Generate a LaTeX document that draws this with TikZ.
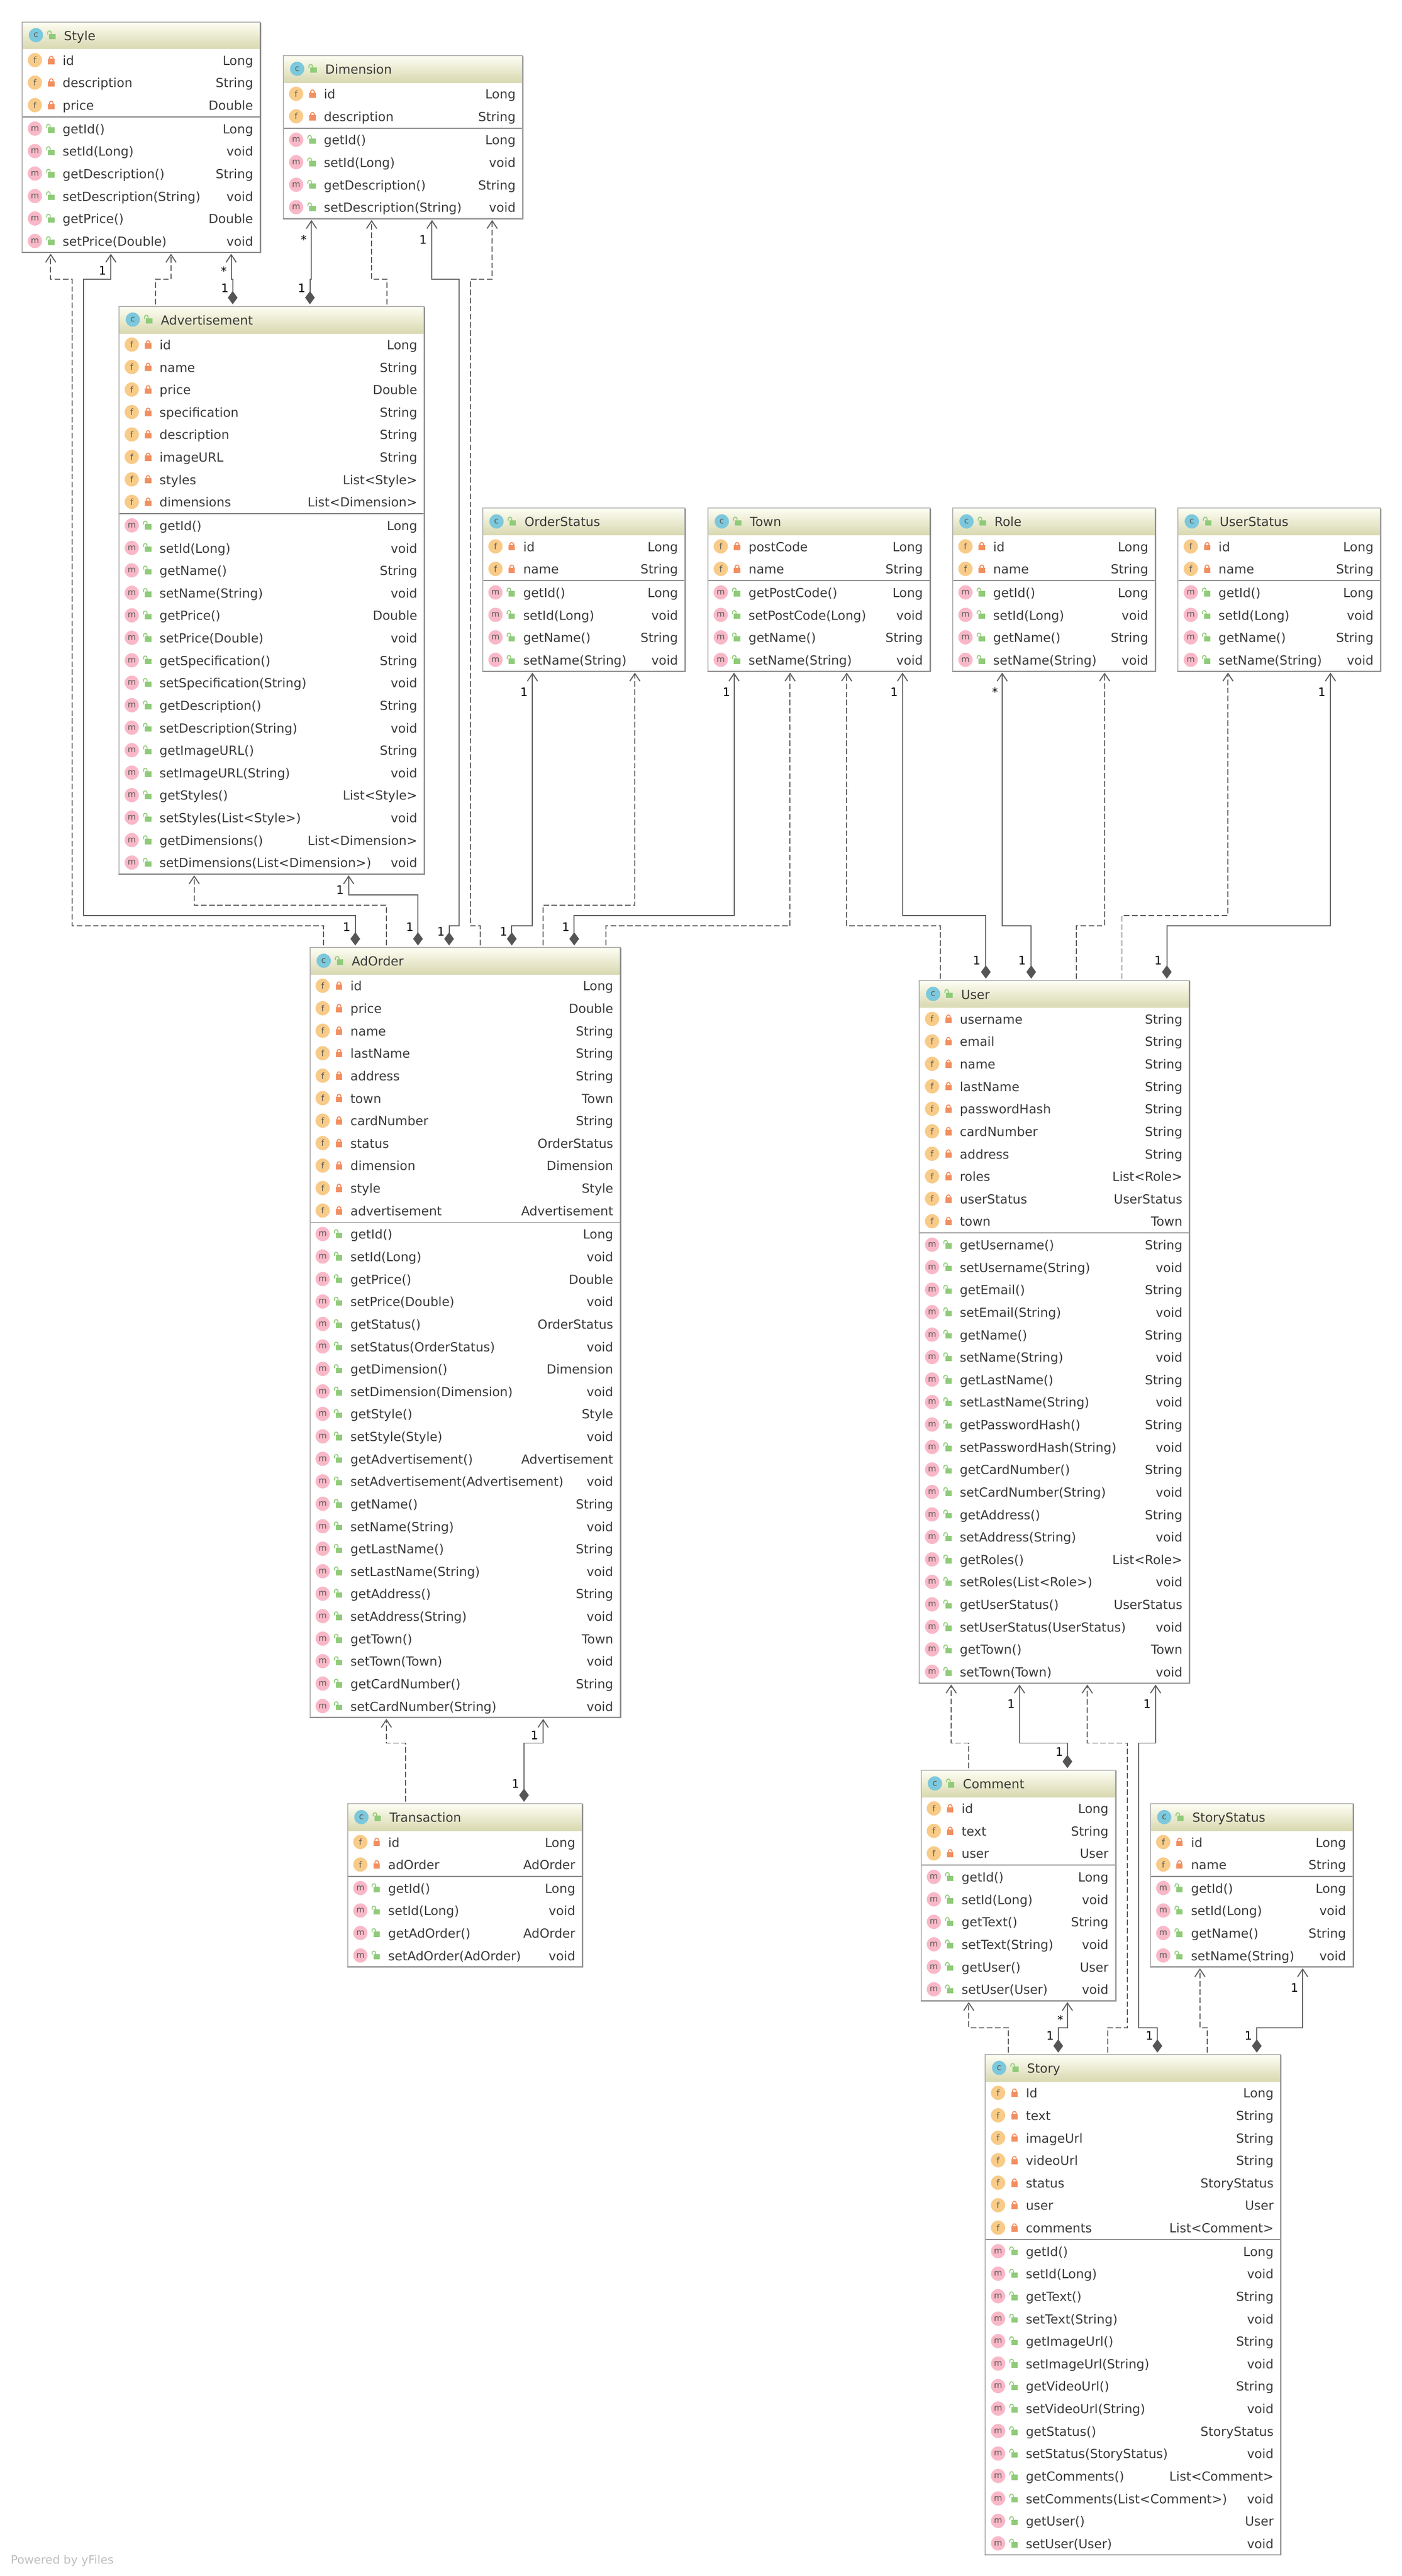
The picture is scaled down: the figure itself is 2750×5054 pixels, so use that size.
\documentclass[tikz,border=0pt]{standalone}
\usepackage{fontspec}
\setmainfont{DejaVu Sans}
\usetikzlibrary{arrows.meta}
\definecolor{edgecol}{HTML}{5E5E5E}
\definecolor{diacol}{HTML}{555555}
\definecolor{txtcol}{HTML}{3A3A3A}
\definecolor{framecol}{HTML}{B4B4B4}
\definecolor{shadecol}{HTML}{8C8C8C}
\definecolor{divcol}{HTML}{808080}
\definecolor{headtop}{HTML}{FEFEF4}
\definecolor{headbot}{HTML}{D8D8B0}
\definecolor{ficon}{HTML}{F8CB88}
\definecolor{micon}{HTML}{F9B8C8}
\definecolor{cicon}{HTML}{7CC8DC}
\definecolor{redlock}{HTML}{F28F60}
\definecolor{greenlock}{HTML}{8FCB78}
\definecolor{lettercol}{HTML}{5A5A55}
\definecolor{wmcol}{HTML}{BEBEBE}
\newcounter{autoname}
\newcommand{\namednode}{\stepcounter{autoname}\node}
\tikzset{
  x=1pt,y=-1pt,
  classbox/.style={anchor=north west,inner sep=0,outer sep=0,draw=none,fill=white},
  rowtxt/.style={inner sep=0,outer sep=0,text=txtcol,font=\fontsize{24.6}{30}\selectfont},
  iconcirc/.style={circle,inner sep=0,outer sep=0,minimum size=28pt,text=lettercol,font=\fontsize{16.5}{20}\selectfont},
  mult/.style={inner sep=0,outer sep=0,anchor=base,text=black,font=\fontsize{23}{28}\selectfont},
  dep/.style={draw=edgecol,line width=2pt,dash pattern=on 11pt off 5pt,shorten <=4pt,shorten >=3pt,
    -{Straight Barb[length=15pt,width=20pt,line width=2pt]}},
  own/.style={draw=edgecol,line width=2pt,shorten <=4pt,shorten >=3pt,
    {Diamond[length=26pt,width=19pt,line width=0pt,fill=diacol,color=diacol]}-{Straight Barb[length=15pt,width=20pt,line width=2pt]}},
}
\newcommand{\closedlock}[2]{%
  \fill[redlock] (#1-6.2,#2-2.5) rectangle (#1+6.2,#2+8);
  \draw[redlock,line width=2pt] (#1-3.6,#2-2) -- (#1-3.6,#2-4) arc (180:360:3.6) -- (#1+3.6,#2-2);}
\newcommand{\openlock}[2]{%
  \fill[greenlock] (#1-6.2,#2-2.5) rectangle (#1+6.2,#2+8);
  \draw[greenlock,line width=1.8pt] (#1-9,#2-1.5) -- (#1-9,#2-5) arc (180:360:3.5) -- (#1-2,#2-2);}
% name, left, top, right, title, fields, methods, number of rows
\newcommand{\umlclass}[8]{%
  \pgfmathsetmacro{\bx}{#2}\pgfmathsetmacro{\by}{#3}\pgfmathsetmacro{\bw}{#4-#2}%
  \pgfmathsetmacro{\bh}{55+44.1*#8}%
  \pgfmathsetmacro{\bb}{#3+\bh}%
  \node[classbox,minimum width=\bw pt,minimum height=\bh pt] (#1) at (\bx,\by) {};
  \shade[top color=headtop,bottom color=headbot] (\bx,\by) rectangle (#4,\by+53);
  \namednode[iconcirc,fill=cicon,text=lettercol] (auto\arabic{autoname}) at (\bx+27,\by+26) {c};
  \openlock{\bx+59}{\by+26}
  \namednode[rowtxt,anchor=base west] (auto\arabic{autoname}) at (\bx+82,\by+36) {#5};
  \foreach \a/\b [count=\i] in {#6} {
    \pgfmathsetmacro{\ry}{\by+53+22+(\i-1)*44.1}
    \namednode[iconcirc,fill=ficon] (auto\arabic{autoname}) at (\bx+25,\ry) {f};
    \closedlock{\bx+57}{\ry}
    \namednode[rowtxt,anchor=base west] (auto\arabic{autoname}) at (\bx+79.5,\ry+9.7) {\a};
    \namednode[rowtxt,anchor=base east] (auto\arabic{autoname}) at (#4-13.5,\ry+9.7) {\b};
    \xdef\nfields{\i}
  }
  \pgfmathsetmacro{\dy}{\by+53+\nfields*44.1+1}%
  \draw[divcol,line width=2pt] (\bx,\dy) -- (#4,\dy);
  \foreach \a/\b [count=\i] in {#7} {
    \pgfmathsetmacro{\ry}{\dy+23+(\i-1)*44.1}
    \namednode[iconcirc,fill=micon] (auto\arabic{autoname}) at (\bx+25,\ry) {m};
    \openlock{\bx+57}{\ry}
    \namednode[rowtxt,anchor=base west] (auto\arabic{autoname}) at (\bx+79.5,\ry+9.7) {\a};
    \namednode[rowtxt,anchor=base east] (auto\arabic{autoname}) at (#4-13.5,\ry+9.7) {\b};
  }
  \draw[framecol,line width=2pt] (\bx,\by) rectangle (#4,\bb);
  \draw[shadecol,line width=2.2pt] (\bx-1,\bb+.6) -- (#4+1,\bb+.6) -- (#4+1,\by+1);
}
\newcommand{\one}[2]{\namednode[mult] (auto\arabic{autoname}) at (#1,#2+8.5) {1};}
\newcommand{\many}[2]{\namednode[mult] (auto\arabic{autoname}) at (#1,#2+11.5) {*};}
\begin{document}
\begin{tikzpicture}
\useasboundingbox (0,0) rectangle (2750,5054);
\fill[white] (0,0) rectangle (2750,5054);

\umlclass{Style}{43.5}{43}{510}{Style}
 {id/Long,description/String,price/Double}
 {getId()/Long,setId(Long)/void,getDescription()/String,setDescription(String)/void,getPrice()/Double,setPrice(Double)/void}{9}
\umlclass{Dimension}{556}{109}{1025}{Dimension}
 {id/Long,description/String}
 {getId()/Long,setId(Long)/void,getDescription()/String,setDescription(String)/void}{6}
\umlclass{Advertisement}{233.5}{601}{832}{Advertisement}
 {id/Long,name/String,price/Double,specification/String,description/String,imageURL/String,styles/List<Style>,dimensions/List<Dimension>}
 {getId()/Long,setId(Long)/void,getName()/String,setName(String)/void,getPrice()/Double,setPrice(Double)/void,getSpecification()/String,setSpecification(String)/void,getDescription()/String,setDescription(String)/void,getImageURL()/String,setImageURL(String)/void,getStyles()/List<Style>,setStyles(List<Style>)/void,getDimensions()/List<Dimension>,setDimensions(List<Dimension>)/void}{24}
\umlclass{OrderStatus}{947}{997}{1343.5}{OrderStatus}
 {id/Long,name/String}
 {getId()/Long,setId(Long)/void,getName()/String,setName(String)/void}{6}
\umlclass{Town}{1389}{997}{1824}{Town}
 {postCode/Long,name/String}
 {getPostCode()/Long,setPostCode(Long)/void,getName()/String,setName(String)/void}{6}
\umlclass{Role}{1869}{997}{2266}{Role}
 {id/Long,name/String}
 {getId()/Long,setId(Long)/void,getName()/String,setName(String)/void}{6}
\umlclass{UserStatus}{2311}{997}{2708}{UserStatus}
 {id/Long,name/String}
 {getId()/Long,setId(Long)/void,getName()/String,setName(String)/void}{6}
\umlclass{AdOrder}{608}{1859}{1216.5}{AdOrder}
 {id/Long,price/Double,name/String,lastName/String,address/String,town/Town,cardNumber/String,status/OrderStatus,dimension/Dimension,style/Style,advertisement/Advertisement}
 {getId()/Long,setId(Long)/void,getPrice()/Double,setPrice(Double)/void,getStatus()/OrderStatus,setStatus(OrderStatus)/void,getDimension()/Dimension,setDimension(Dimension)/void,getStyle()/Style,setStyle(Style)/void,getAdvertisement()/Advertisement,setAdvertisement(Advertisement)/void,getName()/String,setName(String)/void,getLastName()/String,setLastName(String)/void,getAddress()/String,setAddress(String)/void,getTown()/Town,setTown(Town)/void,getCardNumber()/String,setCardNumber(String)/void}{33}
\umlclass{User}{1803.5}{1924}{2333}{User}
 {username/String,email/String,name/String,lastName/String,passwordHash/String,cardNumber/String,address/String,roles/List<Role>,userStatus/UserStatus,town/Town}
 {getUsername()/String,setUsername(String)/void,getEmail()/String,setEmail(String)/void,getName()/String,setName(String)/void,getLastName()/String,setLastName(String)/void,getPasswordHash()/String,setPasswordHash(String)/void,getCardNumber()/String,setCardNumber(String)/void,getAddress()/String,setAddress(String)/void,getRoles()/List<Role>,setRoles(List<Role>)/void,getUserStatus()/UserStatus,setUserStatus(UserStatus)/void,getTown()/Town,setTown(Town)/void}{30}
\umlclass{Transaction}{682}{3539}{1142}{Transaction}
 {id/Long,adOrder/AdOrder}
 {getId()/Long,setId(Long)/void,getAdOrder()/AdOrder,setAdOrder(AdOrder)/void}{6}
\umlclass{Comment}{1807}{3473}{2188}{Comment}
 {id/Long,text/String,user/User}
 {getId()/Long,setId(Long)/void,getText()/String,setText(String)/void,getUser()/User,setUser(User)/void}{9}
\umlclass{StoryStatus}{2257}{3539}{2654}{StoryStatus}
 {id/Long,name/String}
 {getId()/Long,setId(Long)/void,getName()/String,setName(String)/void}{6}
\umlclass{Story}{1933}{4031}{2512}{Story}
 {Id/Long,text/String,imageUrl/String,videoUrl/String,status/StoryStatus,user/User,comments/List<Comment>}
 {getId()/Long,setId(Long)/void,getText()/String,setText(String)/void,getImageUrl()/String,setImageUrl(String)/void,getVideoUrl()/String,setVideoUrl(String)/void,getStatus()/StoryStatus,setStatus(StoryStatus)/void,getComments()/List<Comment>,setComments(List<Comment>)/void,getUser()/User,setUser(User)/void}{21}

% Advertisement -> Style, Dimension
\draw[dep] (305,0 |- Advertisement.north) -- (305,548) -- (335.5,548) -- (335.5,0 |- Style.south);
\draw[own] (456.5,0 |- Advertisement.north) -- (456.5,548) -- (453.5,548) -- (453.5,0 |- Style.south);
\draw[own] (608,0 |- Advertisement.north) -- (608,548) -- (611,548) -- (611,0 |- Dimension.south);
\draw[dep] (759,0 |- Advertisement.north) -- (759,548) -- (729,548) -- (729,0 |- Dimension.south);
% AdOrder -> Style, Advertisement, Dimension, OrderStatus, Town
\draw[dep] (635,0 |- AdOrder.north) -- (635,1816.5) -- (141.5,1816.5) -- (141.5,548) -- (99.5,548) -- (99.5,0 |- Style.south);
\draw[own] (697,0 |- AdOrder.north) -- (697,1796.5) -- (164,1796.5) -- (164,548) -- (217.5,548) -- (217.5,0 |- Style.south);
\draw[dep] (758,0 |- AdOrder.north) -- (758,1776) -- (381,1776) -- (381,0 |- Advertisement.south);
\draw[own] (820,0 |- AdOrder.north) -- (820,1756) -- (684,1756) -- (684,0 |- Advertisement.south);
\draw[own] (881,0 |- AdOrder.north) -- (881,1816.5) -- (901,1816.5) -- (901,548) -- (847.5,548) -- (847.5,0 |- Dimension.south);
\draw[dep] (942.5,0 |- AdOrder.north) -- (942.5,1816.5) -- (922.5,1816.5) -- (922.5,548) -- (965.5,548) -- (965.5,0 |- Dimension.south);
\draw[own] (1004,0 |- AdOrder.north) -- (1004,1816.5) -- (1044.5,1816.5) -- (1044.5,0 |- OrderStatus.south);
\draw[dep] (1065,0 |- AdOrder.north) -- (1065,1776) -- (1245.5,1776) -- (1245.5,0 |- OrderStatus.south);
\draw[own] (1126.5,0 |- AdOrder.north) -- (1126.5,1796) -- (1440,1796) -- (1440,0 |- Town.south);
\draw[dep] (1189,0 |- AdOrder.north) -- (1189,1816) -- (1550,1816) -- (1550,0 |- Town.south);
% User -> Town, Role, UserStatus
\draw[dep] (1845,0 |- User.north) -- (1845,1816) -- (1661,1816) -- (1661,0 |- Town.south);
\draw[own] (1934,0 |- User.north) -- (1934,1796) -- (1770.5,1796) -- (1770.5,0 |- Town.south);
\draw[own] (2023,0 |- User.north) -- (2023,1816) -- (1966,1816) -- (1966,0 |- Role.south);
\draw[dep] (2111.5,0 |- User.north) -- (2111.5,1816) -- (2167,1816) -- (2167,0 |- Role.south);
\draw[dep] (2201,0 |- User.north) -- (2201,1796) -- (2409,1796) -- (2409,0 |- UserStatus.south);
\draw[own] (2289,0 |- User.north) -- (2289,1816) -- (2610,1816) -- (2610,0 |- UserStatus.south);
% Transaction -> AdOrder
\draw[dep] (795.5,0 |- Transaction.north) -- (795.5,3420) -- (758,3420) -- (758,0 |- AdOrder.south);
\draw[own] (1028,0 |- Transaction.north) -- (1028,3420) -- (1065.5,3420) -- (1065.5,0 |- AdOrder.south);
% Comment -> User
\draw[dep] (1900.5,0 |- Comment.north) -- (1900.5,3420) -- (1866,3420) -- (1866,0 |- User.south);
\draw[own] (2094,0 |- Comment.north) -- (2094,3420) -- (2000,3420) -- (2000,0 |- User.south);
% Story -> User, Comment, StoryStatus
\draw[dep] (2173.5,0 |- Story.north) -- (2173.5,3978) -- (2212,3978) -- (2212,3420) -- (2133,3420) -- (2133,0 |- User.south);
\draw[own] (2270.5,0 |- Story.north) -- (2270.5,3978) -- (2233.5,3978) -- (2233.5,3420) -- (2267,3420) -- (2267,0 |- User.south);
\draw[dep] (1978,0 |- Story.north) -- (1978,3978) -- (1900.5,3978) -- (1900.5,0 |- Comment.south);
\draw[own] (2076,0 |- Story.north) -- (2076,3978) -- (2094,3978) -- (2094,0 |- Comment.south);
\draw[dep] (2368.5,0 |- Story.north) -- (2368.5,3978) -- (2354,3978) -- (2354,0 |- StoryStatus.south);
\draw[own] (2465.5,0 |- Story.north) -- (2465.5,3978) -- (2555.5,3978) -- (2555.5,0 |- StoryStatus.south);

% multiplicity labels
\one{201}{531}\one{680}{1818}
\many{439}{529}\one{441}{565}
\many{596}{467}\one{592}{565}
\one{830}{470}\one{865}{1828}
\one{667}{1745.5}\one{804}{1818}
\one{1028}{1358}\one{988}{1828}
\one{1425}{1358}\one{1110}{1818}
\one{1754}{1358}\one{1916}{1884}
\many{1952}{1355}\one{2005}{1884}
\one{2593}{1358}\one{2272}{1884}
\one{1048.5}{3404.5}\one{1011.5}{3499}
\one{1983.5}{3343}\one{2078}{3436.5}
\one{2250.5}{3343}\one{2255}{3994}
\many{2080}{3959}\one{2060}{3994}
\one{2539.5}{3900}\one{2449}{3994}

\node[inner sep=0,outer sep=0,anchor=base west,text=wmcol,font=\fontsize{22.7}{28}\selectfont] (watermark) at (21,5030) {Powered by yFiles};
\end{tikzpicture}
\end{document}
